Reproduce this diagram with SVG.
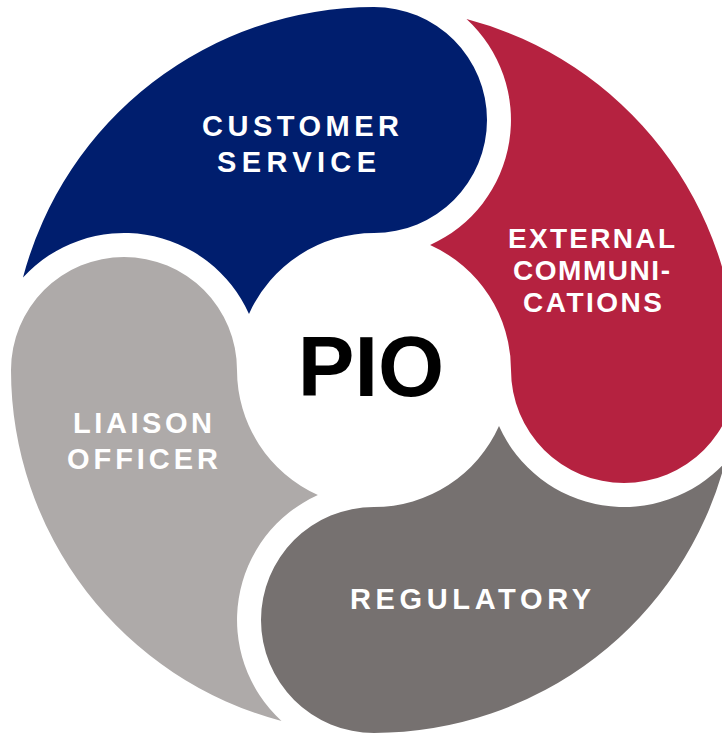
<svg xmlns="http://www.w3.org/2000/svg" width="722" height="738" viewBox="0 0 722 738">
  <style>
    .lbl { font-family: "Liberation Sans", Arial, sans-serif; font-weight: bold; fill: #ffffff; text-anchor: middle; }
    .pio { font-family: "Liberation Sans", Arial, sans-serif; font-weight: bold; fill: #000000; text-anchor: middle; font-size: 85px; }
  </style>
  <rect x="0" y="0" width="722" height="738" fill="#ffffff"/>
  <g id="customer-service">
    <path fill="#001E6E" d="M 23 277.5 A 363 363 0 0 1 374 7 A 113 113 0 0 1 487 120 A 113 113 0 0 1 374 233 A 137 137 0 0 0 249 313.9 A 137 137 0 0 0 23 277.5 Z"/>
    <text class="lbl" font-size="29" x="300.5" y="136" textLength="197" lengthAdjust="spacing">CUSTOMER</text>
    <text class="lbl" font-size="29" x="296.5" y="172" textLength="159" lengthAdjust="spacing">SERVICE</text>
  </g>
  <g id="external-communications">
    <path fill="#B52240" d="M 466.5 19 A 363 363 0 0 1 737 370 A 113 113 0 0 1 624 483 A 113 113 0 0 1 511 370 A 137 137 0 0 0 430.1 245 A 137 137 0 0 0 466.5 19 Z"/>
    <text class="lbl" font-size="28" x="591.5" y="248" textLength="167" lengthAdjust="spacing">EXTERNAL</text>
    <text class="lbl" font-size="28" x="591.5" y="280" textLength="157" lengthAdjust="spacing">COMMUNI-</text>
    <text class="lbl" font-size="28" x="592.5" y="312" textLength="139" lengthAdjust="spacing">CATIONS</text>
  </g>
  <g id="regulatory">
    <path fill="#767170" d="M 725 462.5 A 363 363 0 0 1 374 733 A 113 113 0 0 1 261 620 A 113 113 0 0 1 374 507 A 137 137 0 0 0 499 426.1 A 137 137 0 0 0 725 462.5 Z"/>
    <text class="lbl" font-size="29" x="470.5" y="609" textLength="241" lengthAdjust="spacing">REGULATORY</text>
  </g>
  <g id="liaison-officer">
    <path fill="#AEAAA9" d="M 281.5 721 A 363 363 0 0 1 11 370 A 113 113 0 0 1 124 257 A 113 113 0 0 1 237 370 A 137 137 0 0 0 317.9 495 A 137 137 0 0 0 281.5 721 Z"/>
    <text class="lbl" font-size="29" x="142.5" y="433" textLength="139" lengthAdjust="spacing">LIAISON</text>
    <text class="lbl" font-size="29" x="142.5" y="469" textLength="151" lengthAdjust="spacing">OFFICER</text>
  </g>
  <g id="pio">
    <text class="pio" x="371" y="396">PIO</text>
  </g>
</svg>
